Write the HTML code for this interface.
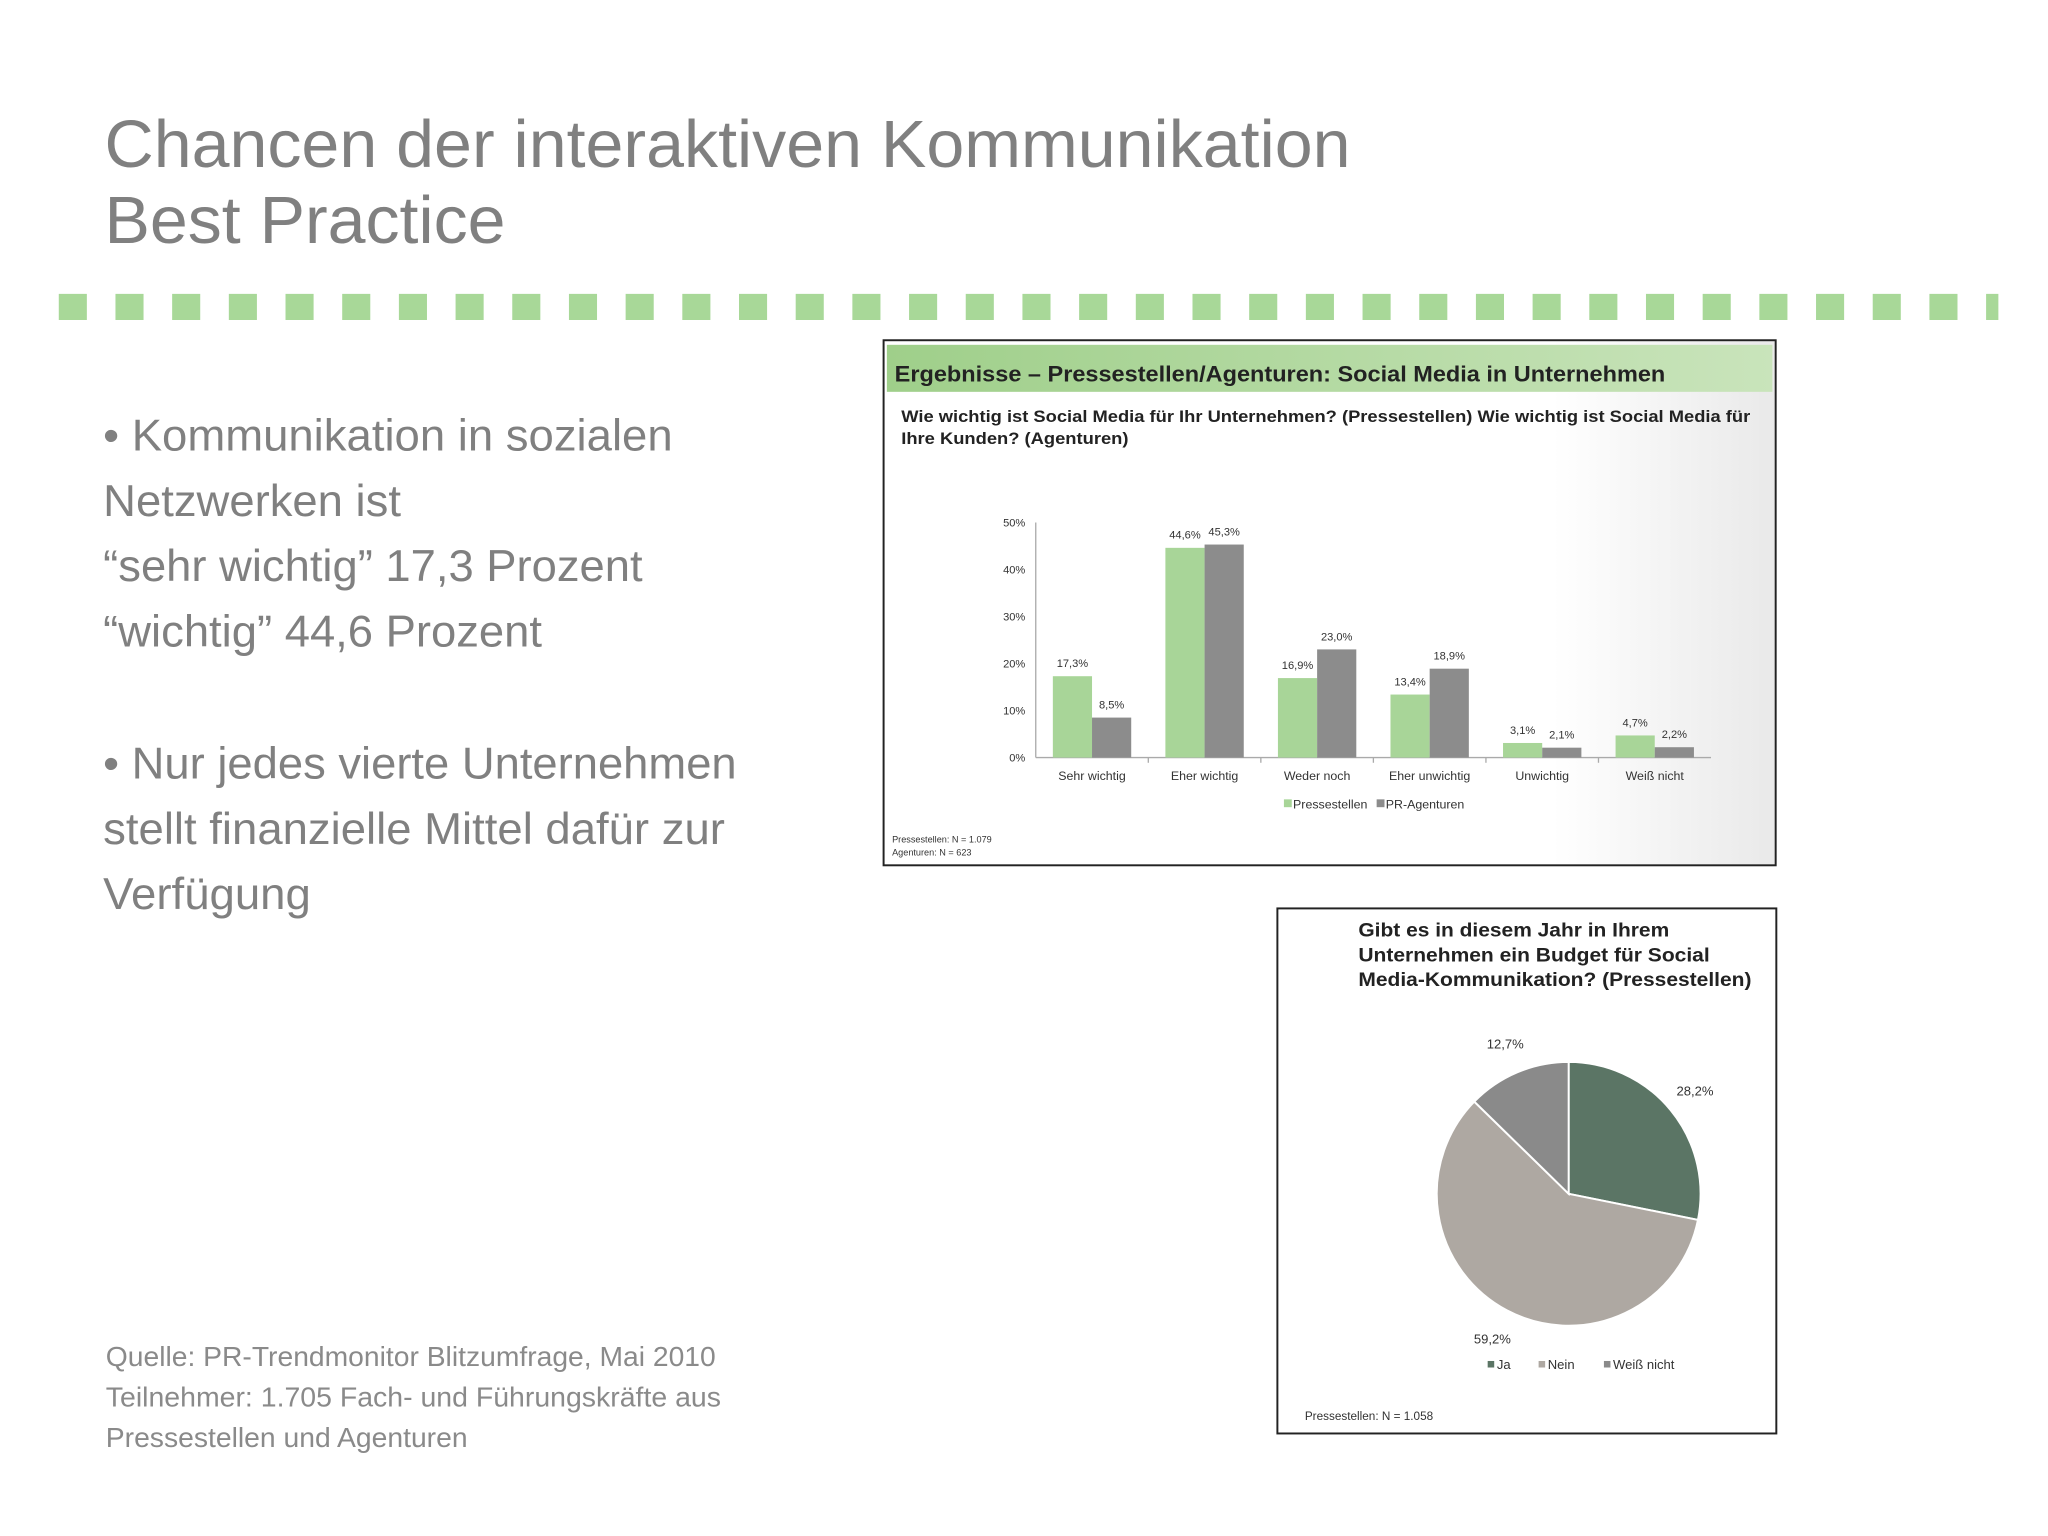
<!DOCTYPE html>
<html><head><meta charset="utf-8"><style>
html,body{margin:0;padding:0;background:#fff}
svg{display:block}
text{font-family:"Liberation Sans",sans-serif}
</style></head><body>
<svg id="s" width="2048" height="1536" viewBox="0 0 1568 1176" xmlns="http://www.w3.org/2000/svg">
<defs>
<linearGradient id="hdr" x1="0" x2="1"><stop offset="0" stop-color="#9fcf8a"/><stop offset="1" stop-color="#c9e4bb"/></linearGradient>
<linearGradient id="bg1" x1="0" x2="1"><stop offset="0.75" stop-color="#fff"/><stop offset="1" stop-color="#e9e9e9"/></linearGradient>
</defs>
<g fill="#808080" font-size="51">
<text x="80" y="128" textLength="954" lengthAdjust="spacingAndGlyphs">Chancen der interaktiven Kommunikation</text>
<text x="80" y="186" textLength="307" lengthAdjust="spacingAndGlyphs">Best Practice</text>
</g>
<g id="dashes"></g>
<g fill="#808080" font-size="34">
<text x="79" y="345" textLength="436" lengthAdjust="spacingAndGlyphs">• Kommunikation in sozialen</text>
<text x="79" y="395" textLength="228" lengthAdjust="spacingAndGlyphs">Netzwerken ist</text>
<text x="79" y="445" textLength="413" lengthAdjust="spacingAndGlyphs">“sehr wichtig” 17,3 Prozent</text>
<text x="79" y="495" textLength="336" lengthAdjust="spacingAndGlyphs">“wichtig” 44,6 Prozent</text>
<text x="79" y="596" textLength="485" lengthAdjust="spacingAndGlyphs">• Nur jedes vierte Unternehmen</text>
<text x="79" y="646" textLength="476" lengthAdjust="spacingAndGlyphs">stellt finanzielle Mittel dafür zur</text>
<text x="79" y="696" textLength="159" lengthAdjust="spacingAndGlyphs">Verfügung</text>
</g>
<g fill="#8a8a8a" font-size="21.5">
<text x="81" y="1046" textLength="467" lengthAdjust="spacingAndGlyphs">Quelle: PR-Trendmonitor Blitzumfrage, Mai 2010</text>
<text x="81" y="1077" textLength="471" lengthAdjust="spacingAndGlyphs">Teilnehmer: 1.705 Fach- und Führungskräfte aus</text>
<text x="81" y="1108" textLength="277" lengthAdjust="spacingAndGlyphs">Pressestellen und Agenturen</text>
</g>
<g>
<rect x="676.5" y="260.5" width="683" height="402" fill="url(#bg1)" stroke="#222" stroke-width="1.5"/>
<rect x="679" y="264" width="678" height="36" fill="url(#hdr)"/>
<text x="685" y="292" font-size="17" font-weight="bold" fill="#222" textLength="590" lengthAdjust="spacingAndGlyphs">Ergebnisse – Pressestellen/Agenturen: Social Media in Unternehmen</text>
<text x="690" y="323" font-size="12.5" font-weight="bold" fill="#222" textLength="650" lengthAdjust="spacingAndGlyphs">Wie wichtig ist Social Media für Ihr Unternehmen? (Pressestellen) Wie wichtig ist Social Media für</text>
<text x="690" y="340" font-size="12.5" font-weight="bold" fill="#222" textLength="174" lengthAdjust="spacingAndGlyphs">Ihre Kunden? (Agenturen)</text>
<g id="bars"></g>
<g font-size="7" fill="#333"><text x="683" y="645">Pressestellen: N = 1.079</text><text x="683" y="655">Agenturen:     N = 623</text></g>
</g>
<g>
<rect x="978" y="695.5" width="382" height="402" fill="#fff" stroke="#222" stroke-width="1.5"/>
<g font-size="15" font-weight="bold" fill="#222">
<text x="1040" y="717" textLength="238" lengthAdjust="spacingAndGlyphs">Gibt es in diesem Jahr in Ihrem</text>
<text x="1040" y="736" textLength="269" lengthAdjust="spacingAndGlyphs">Unternehmen ein Budget für Social</text>
<text x="1040" y="755" textLength="301" lengthAdjust="spacingAndGlyphs">Media-Kommunikation? (Pressestellen)</text>
</g>
<g id="pie"></g>
<text x="999" y="1087" font-size="9" fill="#333">Pressestellen: N = 1.058</text>
</g>
<script>
const dg=document.getElementById('dashes');
for(let x=45;x<1530;x+=43.4){const r=document.createElementNS('http://www.w3.org/2000/svg','rect');
r.setAttribute('x',x);r.setAttribute('y',225);r.setAttribute('width',Math.min(21.5,1530-x));r.setAttribute('height',20);r.setAttribute('fill','#a8d898');


dg.appendChild(r);}
</script>
<script>
const NS='http://www.w3.org/2000/svg';
const categories=['Sehr wichtig','Eher wichtig','Weder noch','Eher unwichtig','Unwichtig','Weiß nicht'];
const pressestellen=[17.3,44.6,16.9,13.4,3.1,4.7];
const agenturen=[8.5,45.3,23.0,18.9,2.1,2.2];
const yTicks=[0,10,20,30,40,50];
const seriesNames=['Pressestellen','PR-Agenturen'];
const X0=793,X1=1310,Y0=580,Y50=400;
const yS=v=>Y0-(Y0-Y50)*v/50;
const bw=(X1-X0)/categories.length;
const xC=i=>X0+bw*(i+0.5);
function el(t,a,p,txt){const e=document.createElementNS(NS,t);for(const k in a)e.setAttribute(k,a[k]);if(txt!=null)e.textContent=txt;p.appendChild(e);return e;}
const g=document.getElementById('bars');
el('line',{x1:X0,x2:X0,y1:Y50,y2:Y0,stroke:'#aaa'},g);
el('line',{x1:X0,x2:X1,y1:Y0,y2:Y0,stroke:'#aaa'},g);
yTicks.forEach(t=>{const e=el('text',{x:X0-8,y:yS(t)+3,'font-size':8.5,fill:'#333','text-anchor':'end'},g,t+'%');

});
const fmt=v=>v.toFixed(1).replace('.',',')+'%';
categories.forEach((c,i)=>{
 const cx=xC(i);
 const a=el('rect',{x:cx-30,y:yS(pressestellen[i]),width:30,height:Y0-yS(pressestellen[i]),fill:'#a8d598'},g);
 
 
 const b=el('rect',{x:cx,y:yS(agenturen[i]),width:30,height:Y0-yS(agenturen[i]),fill:'#8c8c8c'},g);
 
 
 el('text',{x:cx-15,y:yS(pressestellen[i])-7,'font-size':8.5,fill:'#333','text-anchor':'middle'},g,fmt(pressestellen[i]));
 el('text',{x:cx+15,y:yS(agenturen[i])-7,'font-size':8.5,fill:'#333','text-anchor':'middle'},g,fmt(agenturen[i]));
 const l=el('text',{x:cx,y:597,'font-size':9.5,fill:'#333','text-anchor':'middle'},g,c);
 
 
 if(i>0)el('line',{x1:X0+bw*i,x2:X0+bw*i,y1:Y0,y2:Y0+4,stroke:'#aaa'},g);
});
const lg=el('g',{},g);


el('rect',{x:983,y:612,width:6,height:6,fill:'#a8d598'},lg);
el('text',{x:990,y:619,'font-size':9.5,fill:'#333'},lg,seriesNames[0]);
el('rect',{x:1054,y:612,width:6,height:6,fill:'#8c8c8c'},lg);
el('text',{x:1061,y:619,'font-size':9.5,fill:'#333'},lg,seriesNames[1]);

const pieLabels=['Ja','Nein','Weiß nicht'];
const pieValues=[28.2,59.2,12.7];
const pieColors=['#5b7565','#aea8a2','#8a8a8a'];
const pg=document.getElementById('pie');
const CX=1201,CY=914,R=101;
const tot=pieValues.reduce((a,b)=>a+b,0);
let ang=-Math.PI/2;
pieValues.forEach((v,i)=>{
 const a2=ang+2*Math.PI*v/tot;
 const large=(a2-ang)>Math.PI?1:0;
 const p=el('path',{d:`M${CX},${CY} L${CX+R*Math.cos(ang)},${CY+R*Math.sin(ang)} A${R},${R} 0 ${large} 1 ${CX+R*Math.cos(a2)},${CY+R*Math.sin(a2)} Z`,fill:pieColors[i],stroke:'#fff','stroke-width':1.5},pg);
 
 
 const m=(ang+a2)/2, lr=R+24;
 el('text',{x:CX+lr*Math.cos(m),y:CY+lr*Math.sin(m)+4,'font-size':10,fill:'#333','text-anchor':'middle'},pg,v.toFixed(1).replace('.',',')+'%');
 ang=a2;
});
const pl=el('g',{},pg);


const lx=[1139,1178,1228];
pieLabels.forEach((t,i)=>{el('rect',{x:lx[i],y:1042,width:5,height:5,fill:pieColors[i]},pl);el('text',{x:lx[i]+7,y:1048,'font-size':10,fill:'#333'},pl,t);});
</script>
</svg>
</body></html>
